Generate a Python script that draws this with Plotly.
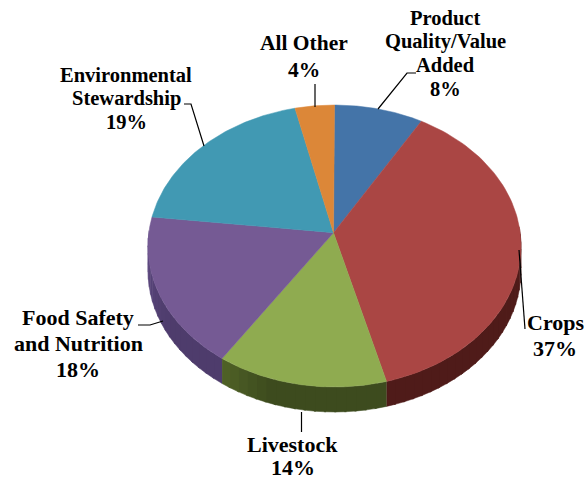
import math
import numpy as np
import plotly.graph_objects as go

# Data
categories = ["Product<br>Quality/Value<br>Added", "Crops", "Livestock",
              "Food Safety<br>and Nutrition", "Environmental<br>Stewardship", "All Other"]
percent_labels = ["8%", "37%", "14%", "18%", "19%", "4%"]
# Slice shares as drawn on the tilted pie
drawn_shares = [7.7, 37.8, 14.8, 18.0, 18.3, 3.4]
top_colors = ["#4474a8", "#aa4644", "#8fab50", "#755a94", "#4199b3", "#dc8738"]
side_colors = ["#2c4c70", "#4f1b19", "#3d4b1e", "#4e3c6c", "#2a6375", "#8f5522"]

# Label placement (centre x, first line y, line gap, font size) in picture pixels
label_pos = [(445, 18, 23.7, 20.5), (555, 322, 26, 22), (292.5, 444, 23.5, 22),
             (78, 317, 26, 22), (126, 75, 23.5, 20.5), (304, 43, 27, 21.5)]
leaders = [
    [(378, 109), (407, 73), (416, 73)],
    [(519, 250), (525, 329)],
    [(301.5, 412), (301.5, 432)],
    [(163, 321), (150, 325), (138, 325)],
    [(204, 146), (191, 104), (184, 104)],
    [(315, 107), (315, 84)],
]

W, H = 584, 481
CX, CY, RX, RY = 334.5, 246.0, 186.5, 141.0
APEX = (333.5, 232.7)
DEPTH = 25.0


def rim(t):
    t = np.asarray(t, dtype=float)
    return CX + RX * np.sin(t), CY - RY * np.cos(t)


def shade(hex_color, f):
    r, g, b = (int(hex_color[i:i + 2], 16) for i in (1, 3, 5))
    return "rgb(%d,%d,%d)" % (min(255, r * f), min(255, g * f), min(255, b * f))


fig = go.Figure()
total = sum(drawn_shares)
edges = np.concatenate([[0], np.cumsum(drawn_shares)]) / total * 2 * math.pi

# side wall, built in narrow strips to get the soft shading
for i in range(len(drawn_shares)):
    a0, a1 = edges[i], edges[i + 1]
    n = max(1, int((a1 - a0) / math.radians(3)))
    steps = np.linspace(a0, a1, n + 1)
    for j in range(n):
        ts = np.linspace(steps[j], min(steps[j + 1] + 0.01, a1), 4)
        if np.max(rim(ts)[1]) < CY - 12:
            continue
        x, y = rim(ts)
        mid = 0.5 * (steps[j] + steps[j + 1])
        frac = (mid - a0) / (a1 - a0)
        f = 1.0
        if i == 2:
            f = 1.0 + 0.32 * max(0, frac - 0.68) / 0.32
        if i == 3:
            f = 1.0 + 0.35 * max(0, frac - 0.35)
        col = shade(side_colors[i], f)
        fig.add_trace(go.Scatter(
            x=np.concatenate([x, x[::-1]]),
            y=np.concatenate([y, (y + DEPTH)[::-1]]),
            fill="toself", fillcolor=col, mode="lines",
            line=dict(color=col, width=0.5), hoverinfo="skip", showlegend=False))

# top face
for i in range(len(drawn_shares)):
    ts = np.linspace(edges[i], edges[i + 1], 90)
    x, y = rim(ts)
    fig.add_trace(go.Scatter(
        x=np.concatenate([[APEX[0]], x, [APEX[0]]]),
        y=np.concatenate([[APEX[1]], y, [APEX[1]]]),
        fill="toself", fillcolor=top_colors[i], mode="lines",
        line=dict(color=top_colors[i], width=0.5),
        hoverinfo="skip", showlegend=False))

# leader lines
for pts in leaders:
    fig.add_trace(go.Scatter(
        x=[p[0] for p in pts], y=[p[1] for p in pts], mode="lines",
        line=dict(color="#000000", width=1.2), hoverinfo="skip", showlegend=False))

for name, pct, pos in zip(categories, percent_labels, label_pos):
    lines = name.split("<br>") + [pct]
    for k, line in enumerate(lines):
        fig.add_annotation(
            x=pos[0], y=pos[1] + k * pos[2], xref="x", yref="y", showarrow=False,
            text=line, xanchor="center", yanchor="middle",
            font=dict(family="Liberation Serif", size=pos[3], color="#000000", weight="bold"))

fig.update_layout(
    width=W, height=H, margin=dict(l=0, r=0, t=0, b=0),
    paper_bgcolor="#ffffff", plot_bgcolor="#ffffff", showlegend=False,
    xaxis=dict(range=[0, W], visible=False, fixedrange=True),
    yaxis=dict(range=[H, 0], visible=False, fixedrange=True))

fig.write_html("out.html", config=dict(displayModeBar=False),
               post_script="document.body.style.margin='0';document.documentElement.style.overflow='hidden';")
